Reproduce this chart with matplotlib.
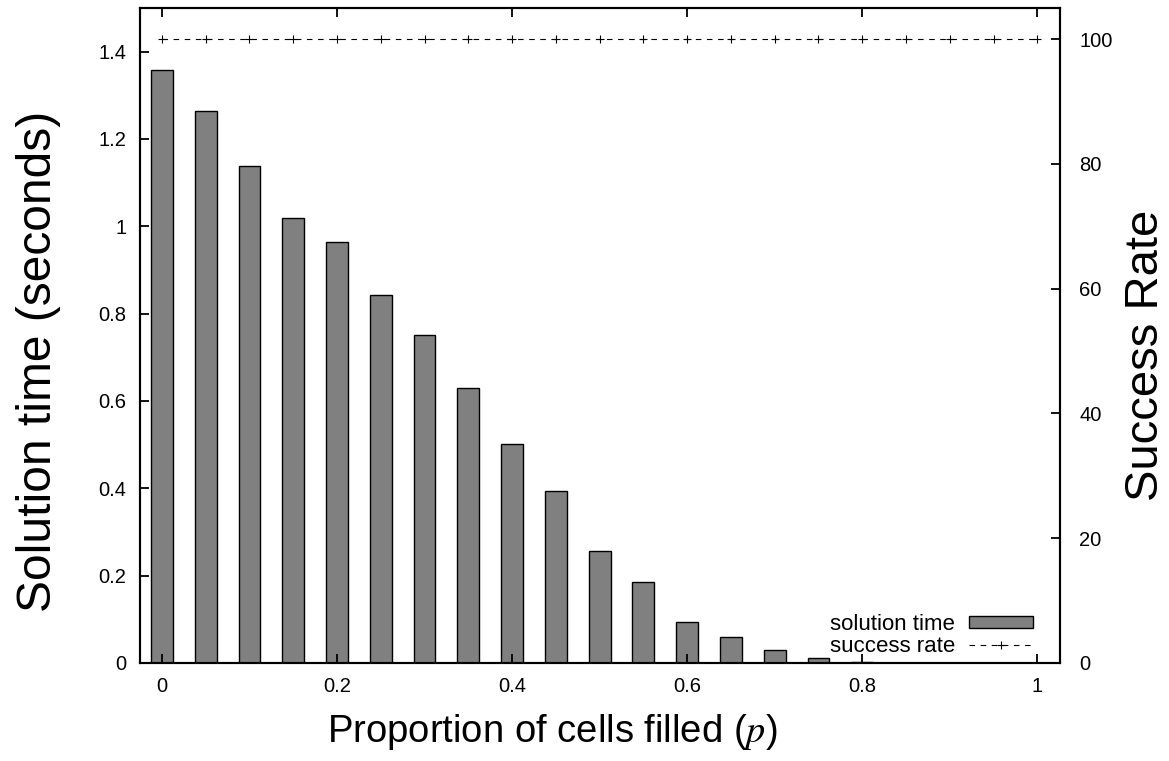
import numpy as np
import matplotlib.pyplot as plt
from matplotlib.ticker import FuncFormatter

plt.rcParams['font.family'] = ['Liberation Sans', 'DejaVu Sans']
plt.rcParams['mathtext.fontset'] = 'stix'

# proportion of cells filled
p = [0.0, 0.05, 0.10, 0.15, 0.20, 0.25, 0.30, 0.35, 0.40, 0.45, 0.50,
     0.55, 0.60, 0.65, 0.70, 0.75, 0.80, 0.85, 0.90, 0.95, 1.0]
# mean solution time (seconds)
solution_time = [1.359, 1.264, 1.139, 1.019, 0.964, 0.842, 0.752, 0.629,
                 0.501, 0.395, 0.257, 0.185, 0.093, 0.059, 0.029, 0.012,
                 0.003, 0.001, 0.0005, 0.0, 0.0]
# success rate (%)
success_rate = [100] * 21

fig = plt.figure(figsize=(11.69, 7.61), dpi=100)
ax = fig.add_axes([0.1198, 0.1288, 0.787, 0.8607])
ax2 = ax.twinx()

bars = ax.bar(p, solution_time, width=0.025, color='#808080',
              edgecolor='black', linewidth=1.0, label='solution time')
line, = ax2.plot(p, success_rate, color='black', linewidth=0.8,
                 linestyle=(0, (5, 5)), marker='+', markersize=6,
                 markeredgewidth=0.8, label='success rate')

ax.set_xlim(-0.025, 1.026)
ax.set_ylim(0, 1.5)
ax2.set_ylim(0, 105)

ax.set_xticks([0, 0.2, 0.4, 0.6, 0.8, 1.0])
ax.set_yticks(np.arange(0, 1.41, 0.2))
ax2.set_yticks(range(0, 101, 20))
fmt = FuncFormatter(lambda v, _: f'{v:g}')
ax.xaxis.set_major_formatter(fmt)
ax.yaxis.set_major_formatter(fmt)

ax.tick_params(axis='x', direction='in', length=6.5, width=1.3, top=True,
               labelsize=14.5, pad=10)
ax.tick_params(axis='y', direction='in', length=6.5, width=1.3, right=False,
               labelsize=14.5, pad=10)
ax2.tick_params(axis='y', direction='in', length=6.5, width=1.3,
                labelsize=14.5, pad=14)

for a in (ax, ax2):
    for s in a.spines.values():
        s.set_linewidth(1.5)

ax.set_xlabel(r'Proportion of cells filled ($\mathit{p}$)', fontsize=27.5)
ax.xaxis.set_label_coords(0.448, -0.075)
ax.set_ylabel('Solution time (seconds)', fontsize=34.5)
ax.yaxis.set_label_coords(-0.086, 0.46)
ax2.set_ylabel('Success Rate', fontsize=34)
ax2.yaxis.set_label_coords(1.069, 0.47)

ax2.legend([bars, line], ['solution time', 'success rate'], loc='lower right',
           bbox_to_anchor=(0.9707, 0.009), frameon=False, markerfirst=False,
           fontsize=16, handlelength=2.9, handleheight=0.5, handletextpad=0.6,
           labelspacing=0.05, borderpad=0, borderaxespad=0)

fig.savefig('out.png', dpi=100)
